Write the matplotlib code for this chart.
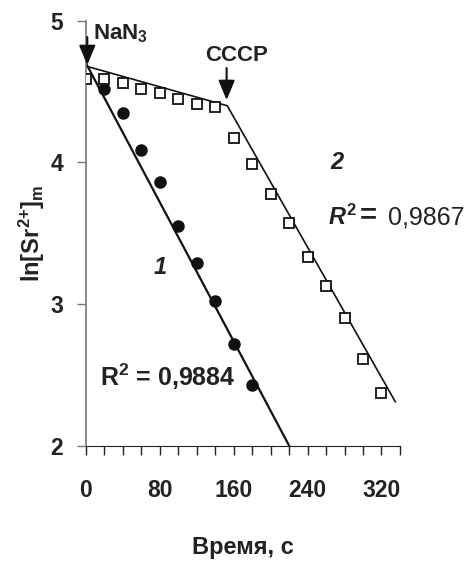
import numpy as np
import matplotlib.pyplot as plt

plt.rcParams['font.family'] = ['Liberation Sans', 'DejaVu Sans']
plt.rcParams['mathtext.fontset'] = 'custom'
plt.rcParams['mathtext.rm'] = 'Liberation Sans:bold'
plt.rcParams['mathtext.bf'] = 'Liberation Sans:bold'
plt.rcParams['mathtext.it'] = 'Liberation Sans:italic:bold'

# data
t_nan3 = [20, 40, 60, 80, 100, 120, 140, 160, 180]
ln_nan3 = [4.52, 4.35, 4.09, 3.86, 3.55, 3.29, 3.02, 2.72, 2.43]

t_cccp = [0, 20, 40, 60, 80, 100, 120, 140, 160, 180, 200, 220, 240, 260, 280, 300, 320]
ln_cccp = [4.59, 4.59, 4.56, 4.52, 4.49, 4.45, 4.41, 4.39, 4.17, 3.99, 3.78, 3.57,
           3.33, 3.13, 2.90, 2.61, 2.37]

# fitted lines (endpoints / kink)
fit1_t = [0, 220]
fit1_y = [4.70, 2.0]
fit2_t = [0, 153, 335]
fit2_y = [4.68, 4.40, 2.31]

xticks = [0, 80, 160, 240, 320]
yticks = [2, 3, 4, 5]

dark = '#222222'

fig = plt.figure(figsize=(4.75, 5.61), dpi=100)
ax = fig.add_axes([0.181, 0.2055, 0.661, 0.7575])

ax.plot(fit1_t, fit1_y, color='#111111', lw=1.6, zorder=2)
ax.plot(fit2_t, fit2_y, color='#111111', lw=1.2, zorder=2)
ax.plot(t_nan3, ln_nan3, 'o', color='#111111', ms=8, zorder=3)
ax.plot(t_cccp, ln_cccp, 's', mfc='white', mec='#111111', mew=1.3, ms=7.5, zorder=3)

ax.set_xlim(0, 340)
ax.set_ylim(2, 5)
ax.set_xticks(xticks)
ax.set_xticks(np.arange(0, 341, 20), minor=True)
ax.set_yticks(yticks)
ax.tick_params(axis='x', which='both', direction='out', length=6.3, width=1, color=dark, pad=18)
ax.tick_params(axis='y', direction='out', length=6.5, width=1, color='#777777', pad=10)
for lab in ax.get_xticklabels() + ax.get_yticklabels():
    lab.set_fontsize(16.5)
    lab.set_fontweight('bold')
    lab.set_color(dark)

ax.spines['top'].set_visible(False)
ax.spines['right'].set_visible(False)
ax.spines['left'].set_color('#777777')
ax.spines['bottom'].set_color(dark)
ax.spines['left'].set_linewidth(1.2)

ax.set_xlabel('Время, с', fontsize=17, fontweight='bold', color=dark, labelpad=24)
ax.set_ylabel(r'$\mathrm{ln[Sr}^{2{+}}\mathrm{]}_{\mathrm{m}}$', fontsize=17, color=dark, labelpad=2)

# arrows
arr = dict(arrowstyle='-|>,head_width=0.5,head_length=1.2', color='#111111', lw=1.5,
           shrinkA=0, shrinkB=0)
ax.annotate('', xy=(1.4, 4.687), xytext=(1.4, 4.885), arrowprops=arr, annotation_clip=False)
ax.text(7.6, 4.906, r'NaN$_{3}$', fontsize=16, fontweight='bold', color=dark,
        ha='left', va='center')
ax.annotate('', xy=(152.3, 4.44), xytext=(152.3, 4.666), arrowprops=arr)
ax.text(163, 4.758, 'CCCP', fontsize=16, fontweight='bold', color=dark,
        ha='center', va='center')

ax.text(80, 3.26, '1', fontsize=17, fontweight='bold', style='italic', color=dark,
        ha='center', va='center')
ax.text(271.5, 4.0, '2', fontsize=17, fontweight='bold', style='italic', color=dark,
        ha='center', va='center')

ax.text(15.2, 2.485, r'R$^{2}$ = 0,9884', fontsize=18, fontweight='bold',
        color=dark, ha='left', va='center')
ax.text(262, 3.614, r'$\mathit{R}^{\mathit{2}}$', fontsize=17, color=dark,
        ha='left', va='center')
ax.text(296, 3.625, '=', fontsize=21, fontweight='bold', color=dark, ha='left', va='center')
ax.text(327, 3.614, '0,9867', fontsize=18, ha='left', va='center', color=dark,
        clip_on=False)

fig.savefig('out.png', dpi=100)
